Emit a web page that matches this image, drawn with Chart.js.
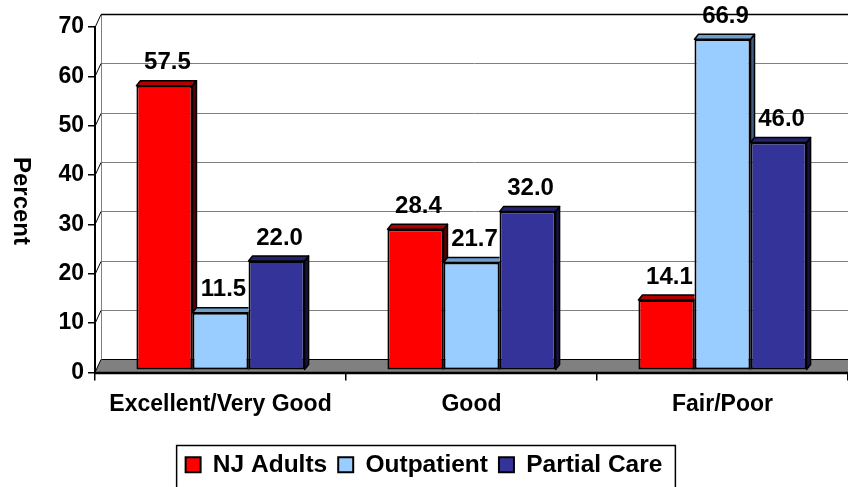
<!DOCTYPE html>
<html>
<head>
<meta charset="utf-8">
<script src="https://cdn.jsdelivr.net/npm/chart.js@4.4.0/dist/chart.umd.min.js"></script>
<style>
  html, body { margin: 0; padding: 0; background: #fff; }
  canvas { display: block; }
</style>
</head>
<body>
<canvas id="chart" width="848" height="487"></canvas>
<script>
// Data
const categories = ['Excellent/Very Good', 'Good', 'Fair/Poor'];
const seriesNames = ['NJ Adults', 'Outpatient', 'Partial Care'];
const njAdults = [57.5, 28.4, 14.1];
const outpatient = [11.5, 21.7, 66.9];
const partialCare = [22.0, 32.0, 46.0];
const yTicks = [0, 10, 20, 30, 40, 50, 60, 70];
const yTitle = 'Percent';

// Look
const FONT = '"Liberation Sans", Arial, sans-serif';
const fronts = ['#ff0000', '#99ccff', '#333399'];
const tops = ['#b00000', '#6f9fcf', '#23236e'];
const sides = ['#5a0000', '#3f5f80', '#14143f'];
const WALL = { dx: 6, dy: 13 };  // back wall offset
const BAR = { dx: 4, dy: 5 };    // bar depth

function poly(ctx, pts, fill) {
  ctx.beginPath();
  ctx.moveTo(pts[0][0], pts[0][1]);
  for (let i = 1; i < pts.length; i++) ctx.lineTo(pts[i][0], pts[i][1]);
  ctx.closePath();
  ctx.fillStyle = fill;
  ctx.fill();
  ctx.stroke();
}

// Back wall, floor and left wall
const wallPlugin = {
  id: 'wall',
  beforeDatasetsDraw(chart) {
    const { ctx, chartArea: { left, right, bottom } } = chart;
    const ya = chart.scales.y;
    ctx.save();
    // floor
    ctx.strokeStyle = '#000';
    ctx.lineWidth = 1;
    poly(ctx, [[left, bottom], [left + WALL.dx, bottom - WALL.dy], [right + 2, bottom - WALL.dy], [right + 2, bottom]], '#808080');
    // back wall left edge
    const topY = ya.getPixelForValue(yTicks[yTicks.length - 1]);
    ctx.beginPath();
    ctx.strokeStyle = '#808080';
    ctx.moveTo(left + WALL.dx + 0.5, topY - WALL.dy);
    ctx.lineTo(left + WALL.dx + 0.5, bottom - WALL.dy);
    ctx.stroke();
    // gridlines
    yTicks.forEach((v, i) => {
      if (v === 0) return;
      const y = Math.round(ya.getPixelForValue(v)) + 0.5;
      const last = i === yTicks.length - 1;
      ctx.beginPath();
      ctx.strokeStyle = last ? '#000' : '#808080';
      ctx.lineWidth = last ? 1.5 : 1;
      ctx.moveTo(left + WALL.dx, y - WALL.dy);
      ctx.lineTo(right, y - WALL.dy);
      ctx.stroke();
      ctx.beginPath();
      ctx.strokeStyle = '#000';
      ctx.lineWidth = 1;
      ctx.moveTo(left, y);
      ctx.lineTo(left + WALL.dx, y - WALL.dy);
      ctx.stroke();
    });
    // front edge of the floor
    ctx.beginPath();
    ctx.strokeStyle = '#000';
    ctx.lineWidth = 2.5;
    ctx.moveTo(left, bottom + 0.5);
    ctx.lineTo(right, bottom + 0.5);
    ctx.stroke();
    ctx.restore();
  }
};

// Top and side faces of the bars, then value labels
const depthPlugin = {
  id: 'depth',
  afterDatasetsDraw(chart) {
    const { ctx } = chart;
    const n = chart.data.datasets.length;
    ctx.save();
    ctx.strokeStyle = '#000';
    ctx.lineWidth = 1.5;
    ctx.lineJoin = 'round';
    categories.forEach((c, j) => {
      for (let i = 0; i < n; i++) {
        const b = chart.getDatasetMeta(i).data[j];
        const l = b.x - b.width / 2, r = b.x + b.width / 2;
        ctx.save();
        if (i + 1 < n) {
          const nb = chart.getDatasetMeta(i + 1).data[j];
          ctx.beginPath();
          ctx.rect(0, 0, chart.width, chart.height);
          ctx.rect(nb.x - nb.width / 2, nb.y, nb.width, nb.base - nb.y + 2);
          ctx.clip('evenodd');
        }
        poly(ctx, [[r, b.y], [r + BAR.dx, b.y - BAR.dy], [r + BAR.dx, b.base - BAR.dy], [r, b.base]], sides[i]);
        poly(ctx, [[l, b.y], [l + BAR.dx, b.y - BAR.dy], [r + BAR.dx, b.y - BAR.dy], [r, b.y]], tops[i]);
        ctx.restore();
      }
    });
    // labels
    ctx.fillStyle = '#000';
    ctx.font = 'bold 24px ' + FONT;
    ctx.textAlign = 'center';
    ctx.textBaseline = 'middle';
    chart.data.datasets.forEach((ds, i) => {
      chart.getDatasetMeta(i).data.forEach((b, j) => {
        ctx.fillText(ds.data[j].toFixed(1), b.x + 3, b.y - 23);
      });
    });
    ctx.restore();
  },
  afterDraw(chart) {
    const { ctx } = chart;
    ctx.save();
    // y title, reading downwards
    ctx.translate(21, 201);
    ctx.rotate(Math.PI / 2);
    ctx.fillStyle = '#000';
    ctx.font = 'bold 24px ' + FONT;
    ctx.textAlign = 'center';
    ctx.textBaseline = 'middle';
    ctx.fillText(yTitle, 0, 0);
    ctx.restore();
    // legend frame
    const hb = chart.legend.legendHitBoxes;
    if (hb && hb.length) {
      const a = hb[0], z = hb[hb.length - 1];
      ctx.save();
      ctx.strokeStyle = '#000';
      ctx.lineWidth = 1.5;
      ctx.strokeRect(a.left - 9, a.top - 7, z.left + z.width - a.left + 22, 60);
      ctx.restore();
    }
  }
};

const bold = (size) => ({ family: FONT, size, weight: 'bold' });

new Chart(document.getElementById('chart'), {
  type: 'bar',
  data: {
    labels: categories,
    datasets: [njAdults, outpatient, partialCare].map((d, i) => ({
      label: seriesNames[i],
      data: d,
      yAxisID: 'yb',
      backgroundColor: fronts[i],
      borderColor: '#000',
      borderWidth: 2,
      borderSkipped: false,
      barPercentage: 1,
      categoryPercentage: 0.67
    }))
  },
  options: {
    responsive: false,
    animation: false,
    devicePixelRatio: 1,
    layout: { padding: { top: 27, left: 0, right: 0, bottom: 0 } },
    scales: {
      x: {
        offset: true,
        grid: { offset: true, drawOnChartArea: false, drawTicks: true, tickLength: 8, color: '#000', lineWidth: 1.5 },
        border: { display: true, color: '#000', width: 2 },
        ticks: { color: '#000', font: bold(23), padding: 10, maxRotation: 0, autoSkip: false },
        afterFit: (s) => { s.height = 69; }
      },
      y: {
        min: yTicks[0],
        max: yTicks[yTicks.length - 1],
        ticks: { stepSize: 10, color: '#000', font: bold(23), padding: 4 },
        grid: { drawOnChartArea: false, tickLength: 7, color: '#000', lineWidth: 1.5 },
        border: { color: '#000', width: 2 },
        afterFit: (s) => { s.width = 95; }
      },
      yb: { display: false, min: -0.6, max: 69.4 }
    },
    plugins: {
      legend: {
        position: 'bottom',
        labels: { boxWidth: 15, boxHeight: 15, padding: 11, color: '#000', font: bold(24.5) }
      },
      tooltip: { enabled: false }
    }
  },
  plugins: [wallPlugin, depthPlugin]
});
</script>
</body>
</html>
